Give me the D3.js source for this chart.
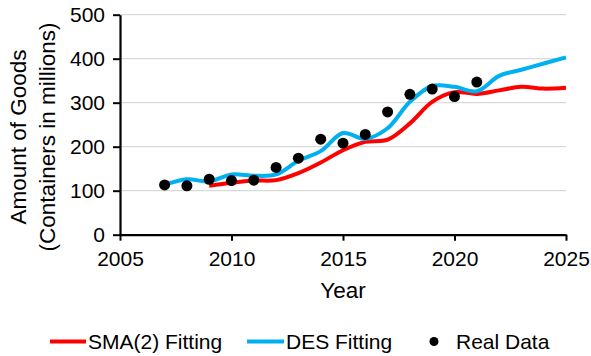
<!DOCTYPE html>
<html>
<head>
<meta charset="utf-8">
<script src="https://cdn.jsdelivr.net/npm/d3@7"></script>
<style>
  html, body { margin: 0; padding: 0; background: #fff; }
  svg { display: block; font-family: "Liberation Sans", Arial, sans-serif; }
</style>
</head>
<body>
<svg id="chart" width="591" height="356"></svg>
<script>
// Yearly container volumes (millions) and the two fitted series
const realYears = [2007, 2008, 2009, 2010, 2011, 2012, 2013, 2014, 2015, 2016, 2017, 2018, 2019, 2020, 2021];
const realValues = [113, 111, 126, 123, 124, 153, 174, 217, 208, 228, 279, 319, 331, 314, 347];

const smaYears = [2009, 2010, 2011, 2012, 2013, 2014, 2015, 2016, 2017, 2018, 2019, 2020, 2021, 2022, 2023, 2024, 2025];
const smaValues = [111, 118, 123, 124, 140, 164, 192, 211, 216, 253, 302, 324, 320, 328, 336, 332, 334];

const desYears = [2007, 2008, 2009, 2010, 2011, 2012, 2013, 2014, 2015, 2016, 2017, 2018, 2019, 2020, 2021, 2022, 2023, 2024, 2025];
const desValues = [113, 126, 121, 137, 134, 137, 168, 190, 231, 218, 242, 302, 338, 336, 326, 361, 375, 389, 403];

const xTicks = [2005, 2010, 2015, 2020, 2025];
const yTicks = [0, 100, 200, 300, 400, 500];

const svg = d3.select("#chart");
const plotLeft = 120, plotRight = 566, plotTop = 14.7, plotBottom = 234.7;

const x = d3.scaleLinear().domain([2005, 2025]).range([plotLeft, plotRight]);
const y = d3.scaleLinear().domain([0, 500]).range([plotBottom, plotTop]);

// horizontal gridlines
svg.append("g")
  .selectAll("line")
  .data(yTicks.filter(d => d > 0))
  .join("line")
  .attr("x1", plotLeft).attr("x2", plotRight)
  .attr("y1", d => y(d)).attr("y2", d => y(d))
  .attr("stroke", "#d9d9d9").attr("stroke-width", 1.3);

// axes
const yAxis = svg.append("g")
  .attr("transform", `translate(${plotLeft},0)`)
  .call(d3.axisLeft(y).tickValues(yTicks).tickSize(7).tickPadding(8).tickSizeOuter(0));
const xAxis = svg.append("g")
  .attr("transform", `translate(0,${plotBottom})`)
  .call(d3.axisBottom(x).tickValues(xTicks).tickFormat(d3.format("d")).tickSize(6).tickPadding(10).tickSizeOuter(0));

[yAxis, xAxis].forEach(g => {
  g.attr("font-size", null).attr("font-family", null);
  g.select(".domain").attr("stroke", "#000").attr("stroke-width", 2.2);
  g.selectAll(".tick line").attr("stroke", "#000").attr("stroke-width", 2);
  g.selectAll(".tick text").attr("fill", "#000").style("font-size", "21px");
});

// axis titles
svg.append("text")
  .attr("x", x(2015)).attr("y", 298)
  .attr("text-anchor", "middle")
  .style("font-size", "22.5px")
  .text("Year");

const yTitle = svg.append("text")
  .attr("transform", "translate(0,137) rotate(-90)")
  .attr("text-anchor", "middle")
  .style("font-size", "22.5px");
yTitle.append("tspan").attr("x", 0).attr("y", 26).text("Amount of Goods");
yTitle.append("tspan").attr("x", 0).attr("y", 55).text("(Containers in millions)");

// fitted curves
const line = d3.line()
  .x(d => x(d[0])).y(d => y(d[1]))
  .curve(d3.curveCatmullRom.alpha(0.5));

svg.append("path")
  .datum(smaYears.map((yr, i) => [yr, smaValues[i]]))
  .attr("d", line)
  .attr("fill", "none").attr("stroke", "#ff0000").attr("stroke-width", 4);

svg.append("path")
  .datum(desYears.map((yr, i) => [yr, desValues[i]]))
  .attr("d", line)
  .attr("fill", "none").attr("stroke", "#00b0f0").attr("stroke-width", 4);

// observed data
svg.append("g")
  .selectAll("circle")
  .data(realYears.map((yr, i) => [yr, realValues[i]]))
  .join("circle")
  .attr("cx", d => x(d[0])).attr("cy", d => y(d[1]))
  .attr("r", 5.5).attr("fill", "#000");

// legend
const legend = svg.append("g").style("font-size", "21px");
const ly = 341.5;
legend.append("line").attr("x1", 50).attr("x2", 86).attr("y1", ly).attr("y2", ly)
  .attr("stroke", "#ff0000").attr("stroke-width", 4);
legend.append("text").attr("x", 88).attr("y", ly + 7.5).text("SMA(2) Fitting");
legend.append("line").attr("x1", 247).attr("x2", 284).attr("y1", ly).attr("y2", ly)
  .attr("stroke", "#00b0f0").attr("stroke-width", 4);
legend.append("text").attr("x", 286).attr("y", ly + 7.5).text("DES Fitting");
legend.append("circle").attr("cx", 434).attr("cy", ly).attr("r", 4.5).attr("fill", "#000");
legend.append("text").attr("x", 456).attr("y", ly + 7.5).text("Real Data");
</script>
</body>
</html>
